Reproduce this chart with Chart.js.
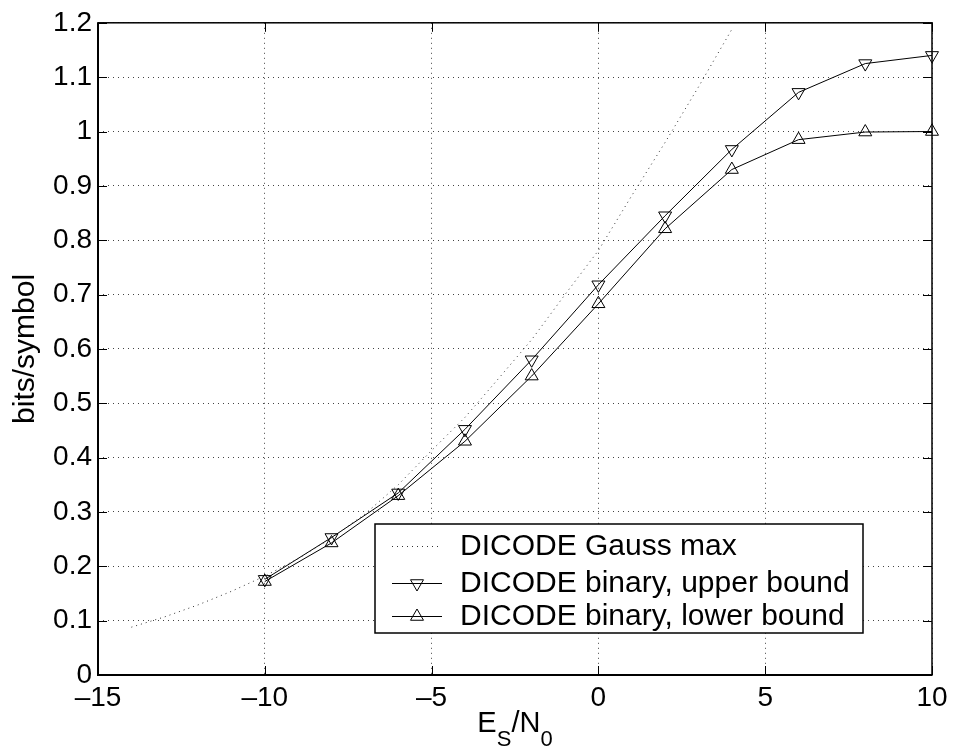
<!DOCTYPE html>
<html><head><meta charset="utf-8">
<script src="https://cdn.jsdelivr.net/npm/chart.js@4/dist/chart.umd.min.js"></script>
<style>html,body{margin:0;padding:0;background:#fff;}#wrap{width:955px;height:754px;}</style>
</head><body><div id="wrap"><canvas id="c" width="955" height="754"></canvas></div>
<script>
// ---- data ----
const snrPoints = [-10, -8, -6, -4, -2, 0, 2, 4, 6, 8, 10];
const upperBound = [0.176, 0.253, 0.335, 0.452, 0.580, 0.718, 0.845, 0.967, 1.072, 1.125, 1.140];
const lowerBound = [0.172, 0.243, 0.330, 0.430, 0.550, 0.683, 0.821, 0.930, 0.985, 0.999, 1.000];
const gaussSnr = [-14, -13, -12, -11, -10, -9, -8, -7, -6, -5, -4, -3, -2, -1, 0, 1, 2, 3, 4];
const gaussMax = [0.088, 0.107, 0.129, 0.154, 0.182, 0.214, 0.252, 0.296, 0.350, 0.413, 0.474, 0.545, 0.617, 0.700, 0.781, 0.882, 0.980, 1.082, 1.188];
const xTicks = [-15, -10, -5, 0, 5, 10];
const xTickLabels = ['\u201315', '\u201310', '\u20135', '0', '5', '10'];
const yTicks = [0, 0.1, 0.2, 0.3, 0.4, 0.5, 0.6, 0.7, 0.8, 0.9, 1.0, 1.1, 1.2];
const yTickLabels = ['0', '0.1', '0.2', '0.3', '0.4', '0.5', '0.6', '0.7', '0.8', '0.9', '1', '1.1', '1.2'];
const seriesLabels = ['DICODE Gauss max', 'DICODE binary, upper bound', 'DICODE binary, lower bound'];
const yTitle = 'bits/symbol';

const FONT = "'Liberation Sans', Arial, Helvetica, sans-serif";
const FS = 28;     // tick labels
const FSL = 30;    // legend / titles

function tri(ctx, x, y, r, down) {
  const rot = down ? Math.PI : 0;
  ctx.beginPath();
  for (let k = 0; k < 3; k++) {
    const a = rot + k * 2 * Math.PI / 3;
    const px = x + Math.sin(a) * r, py = y - Math.cos(a) * r;
    if (k === 0) ctx.moveTo(px, py); else ctx.lineTo(px, py);
  }
  ctx.closePath();
  ctx.stroke();
}

const framePlugin = {
  id: 'frame',
  beforeDatasetsDraw(chart) {
    const {ctx, chartArea: a, scales: {x, y}} = chart;
    ctx.save();
    ctx.strokeStyle = '#000';
    const tl = 9;
    ctx.lineWidth = 1;
    ctx.beginPath();
    xTicks.forEach(v => {
      const px = Math.round(x.getPixelForValue(v)) + 0.5;
      ctx.moveTo(px, a.bottom); ctx.lineTo(px, a.bottom - tl);
      ctx.moveTo(px, a.top); ctx.lineTo(px, a.top + tl);
    });
    yTicks.forEach(v => {
      const py = Math.round(y.getPixelForValue(v)) + 0.5;
      ctx.moveTo(a.left, py); ctx.lineTo(a.left + tl, py);
      ctx.moveTo(a.right, py); ctx.lineTo(a.right - tl, py);
    });
    ctx.stroke();
    ctx.lineWidth = 1.5;
    ctx.strokeRect(a.left, a.top, a.right - a.left, a.bottom - a.top);
    ctx.lineWidth = 2;
    ctx.beginPath();
    ctx.moveTo(a.left, a.top); ctx.lineTo(a.left, a.bottom); ctx.lineTo(a.right, a.bottom);
    ctx.stroke();
    ctx.restore();
  },
  afterDatasetsDraw(chart) {
    const {ctx, chartArea: a} = chart;
    ctx.save();
    // x axis title E_S/N_0
    ctx.fillStyle = '#000';
    ctx.textBaseline = 'alphabetic';
    const big = '29px ' + FONT, small = '22px ' + FONT;
    const parts = [['E', big, 0], ['S', small, 14], ['/N', big, 0], ['0', small, 14]];
    let w = 0;
    parts.forEach(p => { ctx.font = p[1]; w += ctx.measureText(p[0]).width; });
    let cx = (a.left + a.right) / 2 - w / 2;
    const base = a.bottom + 57;
    parts.forEach(p => { ctx.font = p[1]; ctx.fillText(p[0], cx, base + p[2]); cx += ctx.measureText(p[0]).width; });

    // legend
    const lx = 375, ly = 524, lw = 488, lh = 109;
    ctx.fillStyle = '#fff';
    ctx.fillRect(lx, ly, lw, lh);
    ctx.lineWidth = 1.5;
    ctx.strokeStyle = '#000';
    ctx.strokeRect(lx, ly, lw, lh);
    const rows = [546, 583, 616];
    ctx.font = FSL + 'px ' + FONT;
    ctx.textBaseline = 'middle';
    ctx.fillStyle = '#000';
    rows.forEach((ry, i) => {
      ctx.lineWidth = 1;
      if (i === 0) {
        ctx.strokeStyle = '#333';
        ctx.setLineDash([1, 4]);
      } else {
        ctx.strokeStyle = '#000';
        ctx.setLineDash([]);
      }
      ctx.beginPath(); ctx.moveTo(392, ry + 0.5); ctx.lineTo(442, ry + 0.5); ctx.stroke();
      ctx.setLineDash([]);
      if (i > 0) tri(ctx, 417, ry + 0.5, 7.5, i === 1);
      ctx.fillText(chart.data.datasets[i].label, 460, ry + 1);
    });
    ctx.restore();
  }
};

const ctx = document.getElementById('c').getContext('2d');
new Chart(ctx, {
  type: 'line',
  data: {
    datasets: [
      { label: seriesLabels[0], data: gaussSnr.map((v, i) => ({x: v, y: gaussMax[i]})),
        borderColor: '#333', borderWidth: 1, borderDash: [1, 4], pointRadius: 0, tension: 0, fill: false },
      { label: seriesLabels[1], data: snrPoints.map((v, i) => ({x: v, y: upperBound[i]})), clip: false,
        borderColor: '#000', borderWidth: 1, pointStyle: 'triangle', rotation: 180, pointRadius: 7.5,
        pointBorderColor: '#000', pointBackgroundColor: 'rgba(0,0,0,0)', pointBorderWidth: 1, tension: 0, fill: false },
      { label: seriesLabels[2], data: snrPoints.map((v, i) => ({x: v, y: lowerBound[i]})), clip: false,
        borderColor: '#000', borderWidth: 1, pointStyle: 'triangle', rotation: 0, pointRadius: 7.5,
        pointBorderColor: '#000', pointBackgroundColor: 'rgba(0,0,0,0)', pointBorderWidth: 1, tension: 0, fill: false }
    ]
  },
  options: {
    responsive: false, animation: false, events: [],
    layout: { padding: { top: 17, right: 23, left: 0, bottom: 0 } },
    plugins: { legend: { display: false }, tooltip: { enabled: false } },
    scales: {
      x: {
        type: 'linear', min: -15, max: 10,
        afterBuildTicks: s => { s.ticks = xTicks.map(v => ({value: v})); },
        afterFit: s => { s.height = 79; },
        ticks: { callback: (v) => xTickLabels[xTicks.indexOf(v)], font: { family: FONT, size: FS }, color: '#000', padding: 6, maxRotation: 0, autoSkip: false },
        grid: { color: '#444', lineWidth: 1, drawTicks: false },
        border: { display: false, dash: [1, 4] }
      },
      y: {
        type: 'linear', min: 0, max: 1.2,
        afterBuildTicks: s => { s.ticks = yTicks.map(v => ({value: v})); },
        afterFit: s => { s.width = 98; },
        ticks: { callback: (v) => yTickLabels[yTicks.findIndex(t => Math.abs(t - v) < 1e-9)], font: { family: FONT, size: FS }, color: '#000', padding: 6, autoSkip: false },
        grid: { color: '#444', lineWidth: 1, drawTicks: false },
        border: { display: false, dash: [1, 4] },
        title: { display: true, text: yTitle, font: { family: FONT, size: FSL }, color: '#000', padding: { top: 8, bottom: 0 } }
      }
    }
  },
  plugins: [framePlugin]
});
</script></body></html>
